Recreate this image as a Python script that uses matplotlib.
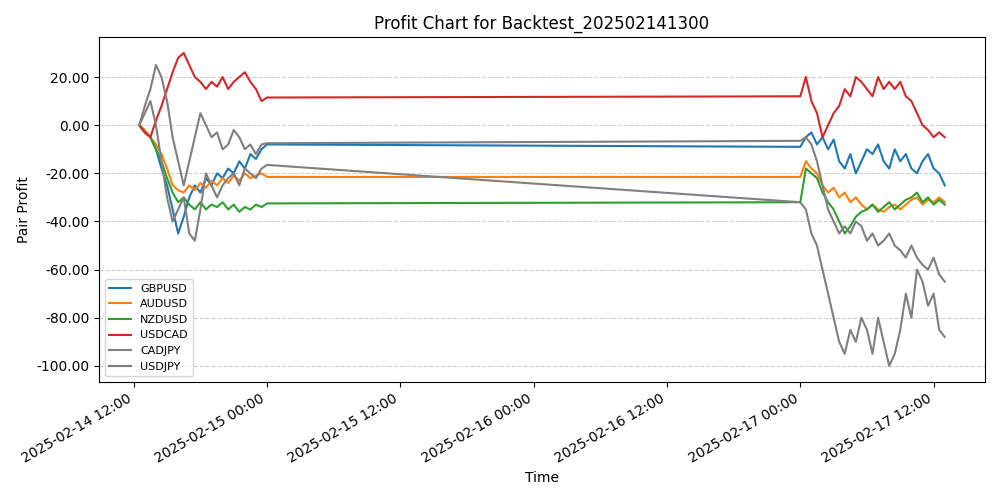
import numpy as np
import pandas as pd
import matplotlib
matplotlib.use("Agg")
import matplotlib.pyplot as plt
import matplotlib.dates as mdates
from matplotlib.ticker import FormatStrFormatter

# sample times: Feb 14 12:30..24:00 every 30 min, then Feb 17 00:00..13:00 every 30 min
seg1 = pd.date_range("2025-02-14 12:30", "2025-02-15 00:00", freq="30min")
seg2 = pd.date_range("2025-02-17 00:00", "2025-02-17 13:00", freq="30min")
times = seg1.append(seg2)

gbpusd = [0, -3, -5, -10, -18, -25, -35, -45, -38, -30, -25, -28, -22, -25, -20, -22, -18, -20, -15, -18, -12, -14, -10, -8,
          -9, -5, -3, -8, -5, -10, -6, -15, -18, -12, -20, -15, -10, -12, -8, -15, -18, -10, -15, -12, -18, -20, -15, -12, -18, -20, -25]
audusd = [0, -2, -5, -8, -12, -18, -25, -27, -28, -25, -27, -24, -26, -23, -25, -22, -24, -21, -23, -20, -22, -21, -20, -21.5,
          -21.5, -15, -18, -20, -25, -28, -26, -30, -28, -32, -30, -33, -35, -33, -35, -36, -34, -33, -35, -33, -31, -30, -33, -31, -32, -30, -32]
nzdusd = [0, -3, -5, -10, -15, -22, -28, -32, -30, -33, -35, -32, -35, -33, -34, -32, -35, -33, -36, -34, -35, -33, -34, -32.5,
          -32, -18, -20, -22, -28, -32, -35, -40, -45, -42, -38, -36, -35, -33, -36, -34, -32, -35, -33, -31, -30, -28, -32, -30, -33, -31, -33]
usdcad = [0, -3, -5, 2, 8, 15, 22, 28, 30, 25, 20, 18, 15, 18, 16, 20, 15, 18, 20, 22, 18, 15, 10, 11.5,
          12, 20, 10, 5, -5, 0, 5, 8, 15, 12, 20, 18, 15, 12, 20, 15, 18, 15, 18, 12, 10, 5, 0, -2, -5, -3, -5]
cadjpy = [0, 8, 15, 25, 20, 10, -5, -15, -25, -15, -5, 5, 0, -5, -3, -10, -8, -2, -5, -10, -8, -12, -8, -7.5,
          -6.5, -5, -8, -15, -25, -35, -40, -45, -42, -45, -40, -42, -48, -45, -50, -48, -45, -50, -52, -55, -50, -55, -58, -60, -55, -62, -65]
usdjpy = [0, 5, 10, 0, -15, -30, -40, -35, -30, -45, -48, -35, -20, -25, -30, -25, -22, -20, -25, -18, -20, -22, -18, -16.5,
          -32, -35, -45, -50, -60, -70, -80, -90, -95, -85, -90, -80, -85, -95, -80, -90, -100, -95, -85, -70, -80, -60, -65, -75, -70, -85, -88]

series = [("GBPUSD", gbpusd, "tab:blue"), ("AUDUSD", audusd, "tab:orange"),
          ("NZDUSD", nzdusd, "tab:green"), ("USDCAD", usdcad, "tab:red"),
          ("CADJPY", cadjpy, "tab:gray"), ("USDJPY", usdjpy, "tab:gray")]

fig, ax = plt.subplots(figsize=(10, 5), dpi=100)
for name, vals, c in series:
    ax.plot(times, vals, color=c, lw=1.5, label=name)

ax.set_title("Profit Chart for Backtest_202502141300")
ax.set_xlabel("Time")
ax.set_ylabel("Pair Profit")
ax.yaxis.set_major_formatter(FormatStrFormatter("%.2f"))
ax.xaxis.set_major_locator(mdates.HourLocator(byhour=[0, 12]))
ax.xaxis.set_major_formatter(mdates.DateFormatter("%Y-%m-%d %H:%M"))
ax.grid(axis="y", linestyle="--", alpha=0.6)
ax.legend(loc="lower left", fontsize=8)
fig.autofmt_xdate()
fig.tight_layout()
fig.savefig("out.png")
